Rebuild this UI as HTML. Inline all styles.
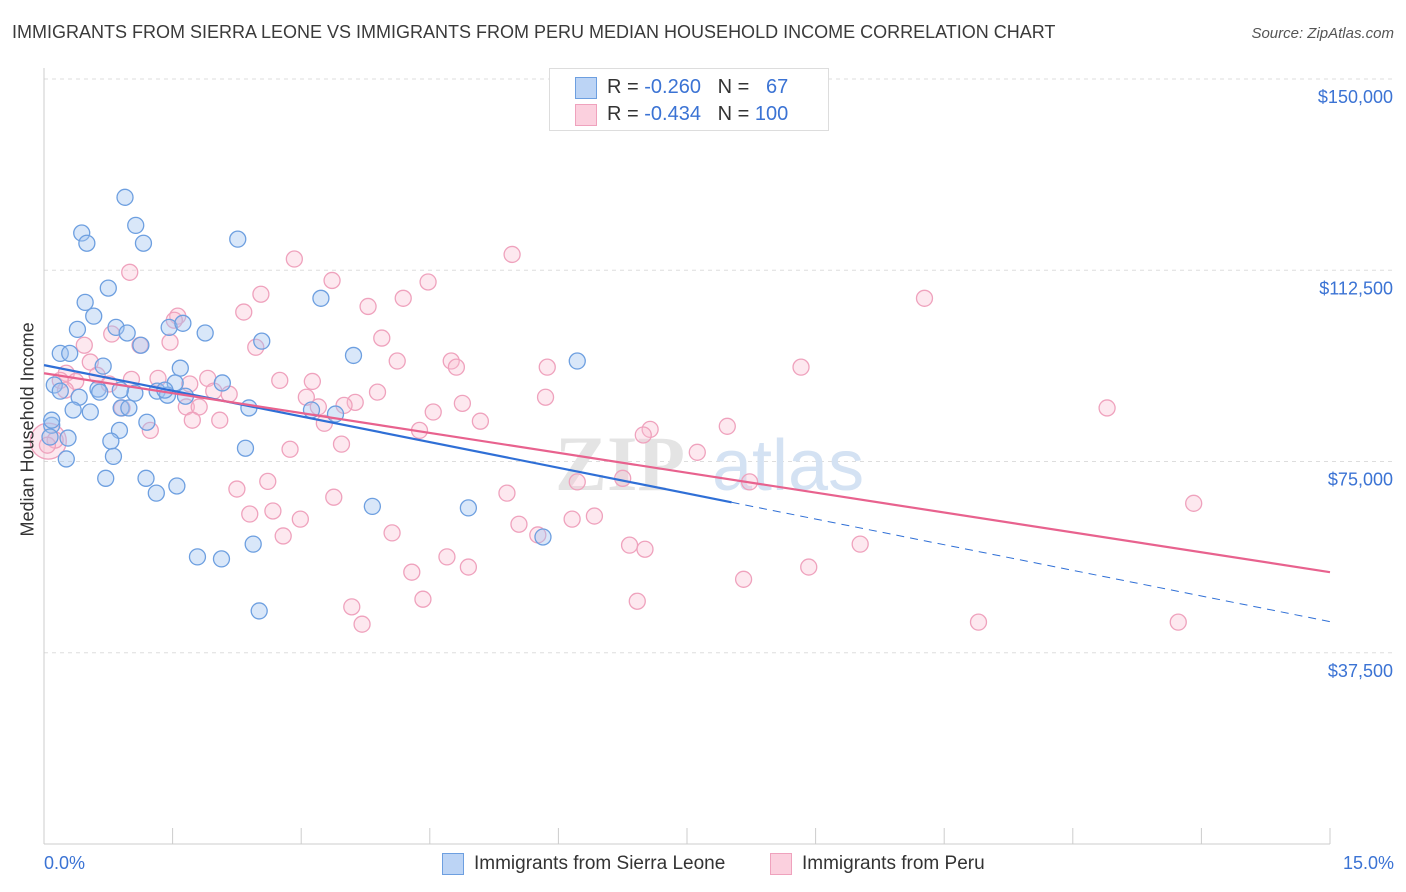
<!DOCTYPE html>
<html><head><meta charset="utf-8"><style>
body{margin:0;background:#fff;font-family:"Liberation Sans",sans-serif;}
#wrap{position:relative;width:1406px;height:892px;overflow:hidden;}
.t{position:absolute;white-space:nowrap;}
</style></head><body>
<div id="wrap">
<div class="t" style="left:12px;top:22px;font-size:18px;color:#3a3a3a;">IMMIGRANTS FROM SIERRA LEONE VS IMMIGRANTS FROM PERU MEDIAN HOUSEHOLD INCOME CORRELATION CHART</div>
<div class="t" style="right:12px;top:25px;font-size:15px;color:#555;font-style:italic;">Source: ZipAtlas.com</div>
<svg id="svg" width="1406" height="892" style="position:absolute;left:0;top:0"></svg>
</div>
<script>
const blueX=[0.945,0.44,1.07,0.50,1.16,2.26,0.75,0.48,0.58,3.23,0.39,0.84,0.97,1.46,1.62,1.88,2.54,1.13,0.19,0.30,3.61,6.22,0.69,1.59,0.12,1.53,2.08,0.63,1.06,0.19,1.32,1.44,1.65,0.41,0.34,0.54,0.90,0.99,2.39,3.12,3.40,1.20,0.09,0.88,0.28,0.78,2.35,0.81,0.26,0.72,1.19,1.55,1.31,3.83,4.95,5.82,2.44,1.79,2.07,2.51,0.07,0.09,0.65,0.89,1.41];
const blueY=[126.8,119.8,121.3,117.8,117.8,118.6,109.0,106.2,103.5,107.0,100.9,101.3,100.2,101.3,102.1,100.2,98.6,97.8,96.2,96.2,95.8,94.7,93.7,93.3,90.0,90.4,90.4,89.2,88.4,88.8,88.8,88.0,87.8,87.6,85.1,84.7,85.5,85.5,85.5,85.1,84.3,82.7,82.1,81.1,79.6,79.0,77.6,76.0,75.5,71.7,71.7,70.2,68.8,66.2,65.9,60.2,58.8,56.3,55.9,45.7,79.8,83.1,88.6,89.0,89.0];
const pinkX=[5.46,2.92,1.00,3.36,4.48,2.53,3.78,4.19,10.27,2.33,1.56,1.52,0.79,3.94,0.47,1.12,1.47,2.47,4.12,4.75,5.87,8.83,0.54,4.81,0.26,0.62,1.33,1.91,2.75,3.13,1.02,0.37,0.76,1.70,3.89,3.06,3.63,4.88,1.98,2.16,5.85,0.91,1.66,1.81,3.20,3.50,4.54,12.40,1.73,2.05,3.27,5.09,7.97,7.07,6.99,4.38,1.24,3.47,2.87,7.62,6.75,6.22,8.23,2.61,2.25,3.38,5.40,13.41,2.40,2.67,2.99,6.42,6.16,5.54,4.06,2.79,5.76,9.52,6.83,7.01,4.70,4.95,8.92,4.29,8.16,6.92,4.42,3.59,10.90,13.23,3.71,0.13,0.04,0.19,0.25];
const pinkY=[115.6,114.7,112.1,110.5,110.2,107.8,105.4,107.0,107.0,104.3,103.5,102.7,100.0,99.2,97.8,97.8,98.4,97.4,94.7,94.7,93.5,93.5,94.5,93.5,92.3,91.9,91.3,91.3,90.9,90.7,91.1,90.7,90.2,90.2,88.6,87.6,86.6,86.4,88.8,88.2,87.6,85.5,85.7,85.7,85.7,86.0,84.7,85.5,83.1,83.1,82.5,82.9,81.9,81.3,80.2,81.1,81.1,78.4,77.4,76.8,71.7,71.0,71.0,71.1,69.6,68.0,68.8,66.8,64.7,65.3,63.7,64.3,63.7,62.7,61.0,60.4,60.6,58.8,58.6,57.8,56.3,54.3,54.3,53.3,51.9,47.6,48.0,46.5,43.5,43.5,43.1,79.2,78.2,90.9,89.0];
const yTicks=[37.5,75,112.5,150];
const yTickLabels=["$37,500","$75,000","$112,500","$150,000"];
const blueTrend=[93.9,67.0,43.6]; // at 0%, 8.02%, 15%
const blueTrendX=[0,8.02,15];
const pinkTrend=[92.3,53.3];
const pinkTrendX=[0,15];

const X0=44,X1=1330,Y0=844,YTOP=79;
const sx=v=>X0+(v/15)*(X1-X0);
const sy=v=>Y0-(v/150)*(Y0-YTOP);
const svg=document.getElementById('svg');
const NS='http://www.w3.org/2000/svg';
function mk(tag,attrs,name){const e=document.createElementNS(NS,tag);for(const k in attrs)e.setAttribute(k,attrs[k]);


svg.appendChild(e);return e;}
// grid
mk('line',{x1:X0,x2:1393,y1:YTOP,y2:YTOP,stroke:'#ddd','stroke-dasharray':'4,4'},'grid-top');
yTicks.forEach((t,i)=>{
 mk('line',{x1:X0,x2:1393,y1:sy(t),y2:sy(t),stroke:'#ddd','stroke-dasharray':'4,4'},'y-gridline');
 const tx=mk('text',{x:1393,y:sy(t)+24,'text-anchor':'end','font-size':18,fill:'#3b73d4','font-family':'Liberation Sans'},'y-tick-label');
 tx.textContent=yTickLabels[i];
});
mk('line',{x1:X0,x2:X0,y1:68,y2:Y0,stroke:'#ccc'},'y-axis-line');
mk('line',{x1:X0,x2:X1,y1:Y0,y2:Y0,stroke:'#ccc'},'x-axis-line');
for(let i=0;i<=10;i++){mk('line',{x1:sx(i*1.5),x2:sx(i*1.5),y1:Y0,y2:Y0-16,stroke:'#ccc'},'x-tick');}
// watermark
const wm=mk('text',{x:555,y:490,'font-size':78,fill:'#e4e4e4','font-family':'Liberation Serif','font-weight':'bold'},'watermark');
wm.textContent='ZIP';
const wm2=mk('text',{x:712,y:490,'font-size':72,fill:'#d4e2f3','font-family':'Liberation Sans'},'watermark-atlas');
wm2.textContent='atlas';
// points
function pts(xs,ys,stroke,fill,name){xs.forEach((x,i)=>{mk('circle',{cx:sx(x),cy:sy(ys[i]),r:8,fill:fill,stroke:stroke,'stroke-width':1.3},name);});}
mk('circle',{cx:sx(0.05),cy:sy(79),r:18,fill:'rgba(248,190,210,0.35)',stroke:'#f0a0bc','stroke-width':1.3},'peru-large-point');
pts(pinkX,pinkY,'#efa2bd','rgba(248,190,210,0.35)','peru-point');
pts(blueX,blueY,'#6d9fe0','rgba(160,195,240,0.4)','sierra-leone-point');
// trends
mk('line',{x1:sx(blueTrendX[0]),y1:sy(blueTrend[0]),x2:sx(blueTrendX[1]),y2:sy(blueTrend[1]),stroke:'#2f6fd6','stroke-width':2.2},'sierra-leone-trendline');
mk('line',{x1:sx(blueTrendX[1]),y1:sy(blueTrend[1]),x2:sx(blueTrendX[2]),y2:sy(blueTrend[2]),stroke:'#2f6fd6','stroke-width':1,'stroke-dasharray':'8,6'},'sierra-leone-trendline-extension');
mk('line',{x1:sx(pinkTrendX[0]),y1:sy(pinkTrend[0]),x2:sx(pinkTrendX[1]),y2:sy(pinkTrend[1]),stroke:'#e8628e','stroke-width':2.2},'peru-trendline');
</script>
<div class="t" style="left:-52px;top:446px;font-size:18px;color:#333;transform:rotate(-90deg);transform-origin:center;width:160px;text-align:center;">Median Household Income</div>
<div class="t" style="left:44px;top:853px;font-size:18px;color:#3b73d4;">0.0%</div>
<div class="t" style="right:12px;top:853px;font-size:18px;color:#3b73d4;">15.0%</div>
<div style="position:absolute;left:549px;top:68px;width:278px;height:61px;border:1px solid #ddd;background:#fff;font-size:20px;color:#333;">
 <div style="position:absolute;left:25px;top:8px;width:20px;height:20px;background:#bcd4f5;border:1px solid #6d9fe0;"></div>
 <div class="t" style="left:57px;top:7px;">R = <span style="color:#3b73d4">-0.260</span>&nbsp;&nbsp;&nbsp;N = &nbsp;&nbsp;<span style="color:#3b73d4">67</span></div>
 <div style="position:absolute;left:25px;top:35px;width:20px;height:20px;background:#fbd0de;border:1px solid #efa2bd;"></div>
 <div class="t" style="left:57px;top:34px;">R = <span style="color:#3b73d4">-0.434</span>&nbsp;&nbsp;&nbsp;N = <span style="color:#3b73d4">100</span></div>
</div>
<div style="position:absolute;left:442px;top:853px;">
 <div style="position:absolute;left:0;top:0;width:20px;height:20px;background:#bcd4f5;border:1px solid #6d9fe0;"></div>
 <div class="t" style="left:32px;top:0;font-size:19px;color:#333;">Immigrants from Sierra Leone</div>
</div>
<div style="position:absolute;left:770px;top:853px;">
 <div style="position:absolute;left:0;top:0;width:20px;height:20px;background:#fbd0de;border:1px solid #efa2bd;"></div>
 <div class="t" style="left:32px;top:0;font-size:19px;color:#333;">Immigrants from Peru</div>
</div>
</body></html>
